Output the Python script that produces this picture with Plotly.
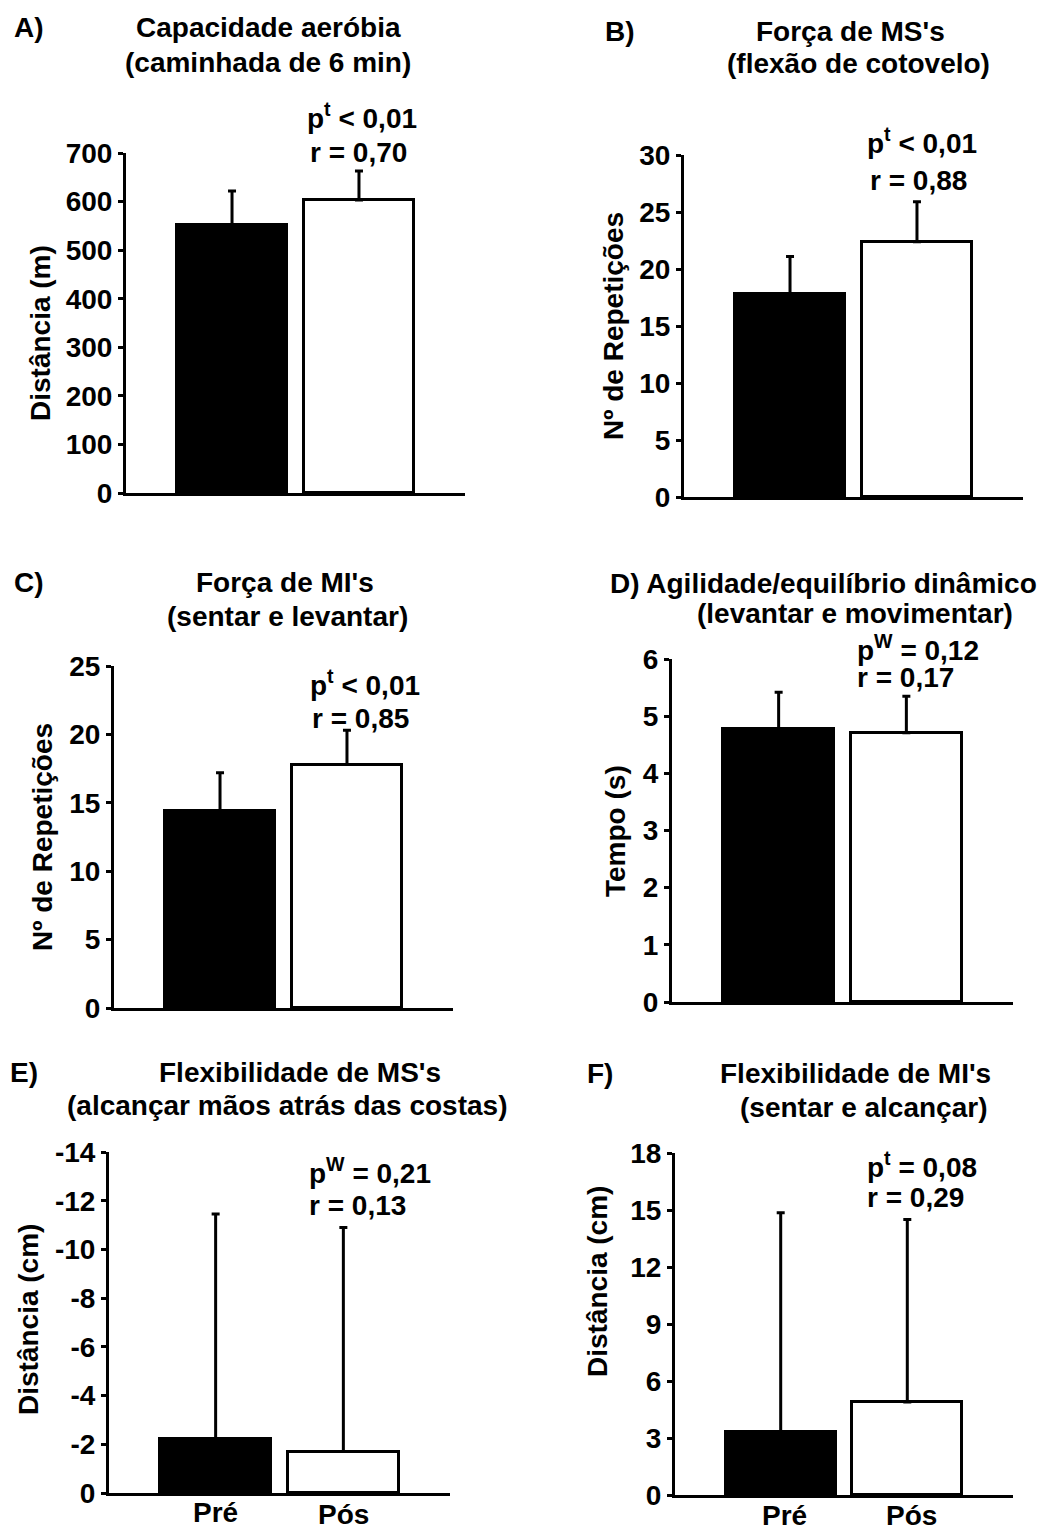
import plotly.graph_objects as go

W, H = 1055, 1532

# ---- data ----
groups = ["Pré", "Pós"]

a_mean = [552, 603]
a_sd = [70, 60]
b_mean = [17.8, 22.4]
b_sd = [3.3, 3.5]
c_mean = [14.4, 17.8]
c_sd = [2.8, 2.5]
d_mean = [4.78, 4.71]
d_sd = [0.64, 0.64]
e_mean = [-2.2, -1.7]
e_sd = [9.25, 9.2]
f_mean = [3.3, 4.9]
f_sd = [11.55, 9.6]

a_ticks = [0, 100, 200, 300, 400, 500, 600, 700]
b_ticks = [0, 5, 10, 15, 20, 25, 30]
c_ticks = [0, 5, 10, 15, 20, 25]
d_ticks = [0, 1, 2, 3, 4, 5, 6]
e_ticks = [0, -2, -4, -6, -8, -10, -12, -14]
f_ticks = [0, 3, 6, 9, 12, 15, 18]

FONT = "Liberation Sans"
FS = 28

panels = [
    ("A", a_mean, a_sd, a_ticks, [0, 700], (126, 465, 153, 493), False, False),
    ("B", b_mean, b_sd, b_ticks, [0, 30], (684, 1023, 155, 497), False, False),
    ("C", c_mean, c_sd, c_ticks, [0, 25], (114, 453, 666, 1008), False, False),
    ("D", d_mean, d_sd, d_ticks, [0, 6], (672, 1013, 659, 1002), False, False),
    ("E", e_mean, e_sd, e_ticks, [0, -14], (109, 450, 1152, 1493), True, True),
    ("F", f_mean, f_sd, f_ticks, [0, 18], (675, 1013, 1153, 1495), True, False),
]

fig = go.Figure()
layout = {}
for i, (name, mean, sd, ticks, yr, (x0, x1, yt, yb), showx, neg) in enumerate(panels):
    n = "" if i == 0 else str(i + 1)
    xa, ya = "x" + n, "y" + n
    if neg:
        err = dict(type="data", symmetric=False, array=[0, 0], arrayminus=sd,
                   color="black", thickness=3, width=4)
    else:
        err = dict(type="data", symmetric=False, array=sd, arrayminus=[0, 0],
                   color="black", thickness=3, width=4)
    fig.add_trace(go.Bar(
        x=[0, 1], y=mean, width=0.866,
        marker=dict(color=["black", "white"], line=dict(color="black", width=3)),
        error_y=err, xaxis=xa, yaxis=ya, showlegend=False,
    ))
    layout["xaxis" + n] = dict(
        domain=[x0 / W, x1 / W], anchor=ya, range=[-0.835, 1.835],
        showline=True, linecolor="black", linewidth=3, showgrid=False, zeroline=False,
        tickvals=[0, 1], ticktext=groups, showticklabels=False, ticks="",
        fixedrange=True, automargin=False,
    )
    layout["yaxis" + n] = dict(
        domain=[1 - yb / H, 1 - yt / H], anchor=xa, range=yr,
        showline=True, linecolor="black", linewidth=3, showgrid=False, zeroline=False,
        tickvals=ticks, ticktext=[str(t) for t in ticks],
        ticks="outside", ticklen=5, tickwidth=3, tickcolor="black",
        tickfont=dict(family=FONT, size=FS, color="black", weight="bold"),
        fixedrange=True, automargin=False,
    )

fig.update_layout(**layout)


def ann(text, x, y, xanchor="center", angle=0, size=FS, xref="paper"):
    xv = x / W if xref == "paper" else x
    fig.add_annotation(text=text, x=xv, y=1 - y / H, xref=xref, yref="paper",
                       xanchor=xanchor, yanchor="middle", showarrow=False, textangle=angle,
                       font=dict(family=FONT, size=size, color="black", weight="bold"))


# titles
ann("A)", 12, 28, "left")
ann("Capacidade aeróbia", 268, 28)
ann("(caminhada de 6 min)", 268, 63)
ann("B)", 603, 32, "left")
ann("Força de MS's", 850, 32)
ann("(flexão de cotovelo)", 858, 64)
ann("C)", 12, 582, "left")
ann("Força de MI's", 285, 582)
ann("(sentar e levantar)", 287, 617)
ann("D) Agilidade/equilíbrio dinâmico", 823, 583)
ann("(levantar e movimentar)", 855, 613)
ann("E)", 8, 1072, "left")
ann("Flexibilidade de MS's", 300, 1072)
ann("(alcançar mãos atrás das costas)", 287, 1105)
ann("F)", 585, 1073, "left")
ann("Flexibilidade de MI's", 855, 1073)
ann("(sentar e alcançar)", 863, 1107)

# stats
ann("p<sup>t</sup> &lt; 0,01", 362, 116)
ann("r = 0,70", 358, 152)
ann("p<sup>t</sup> &lt; 0,01", 922, 141)
ann("r = 0,88", 918, 180)
ann("p<sup>t</sup> &lt; 0,01", 365, 683)
ann("r = 0,85", 360, 718)
ann("p<sup>W</sup> = 0,12", 855, 648, "left")
ann("r = 0,17", 855, 678, "left")
ann("p<sup>W</sup> = 0,21", 307, 1171, "left")
ann("r = 0,13", 307, 1205, "left")
ann("p<sup>t</sup> = 0,08", 922, 1165)
ann("r = 0,29", 915, 1197)

# y axis titles
ann("Distância (m)", 40, 333, angle=-90)
ann("Nº de Repetições", 613, 326, angle=-90)
ann("Nº de Repetições", 42, 837, angle=-90)
ann("Tempo (s)", 615, 831, angle=-90)
ann("Distância (cm)", 28, 1320, angle=-90)
ann("Distância (cm)", 597, 1282, angle=-90)

# category labels (bottom panels), placed on the x axes of E and F
for k, g in enumerate(groups):
    ann(g, k, 1512 + 2 * k, xref="x5")
    ann(g, k + 0.03, 1515, xref="x6")

fig.update_layout(
    width=W, height=H, margin=dict(l=0, r=0, t=0, b=0, pad=0, autoexpand=False),
    paper_bgcolor="white", plot_bgcolor="white",
    font=dict(family=FONT, color="black"),
    showlegend=False, bargap=0,
)

fig.write_html(
    "out.html",
    config={"displayModeBar": False},
    post_script="document.body.style.margin='0';document.body.style.padding='0';document.documentElement.style.margin='0';",
)
